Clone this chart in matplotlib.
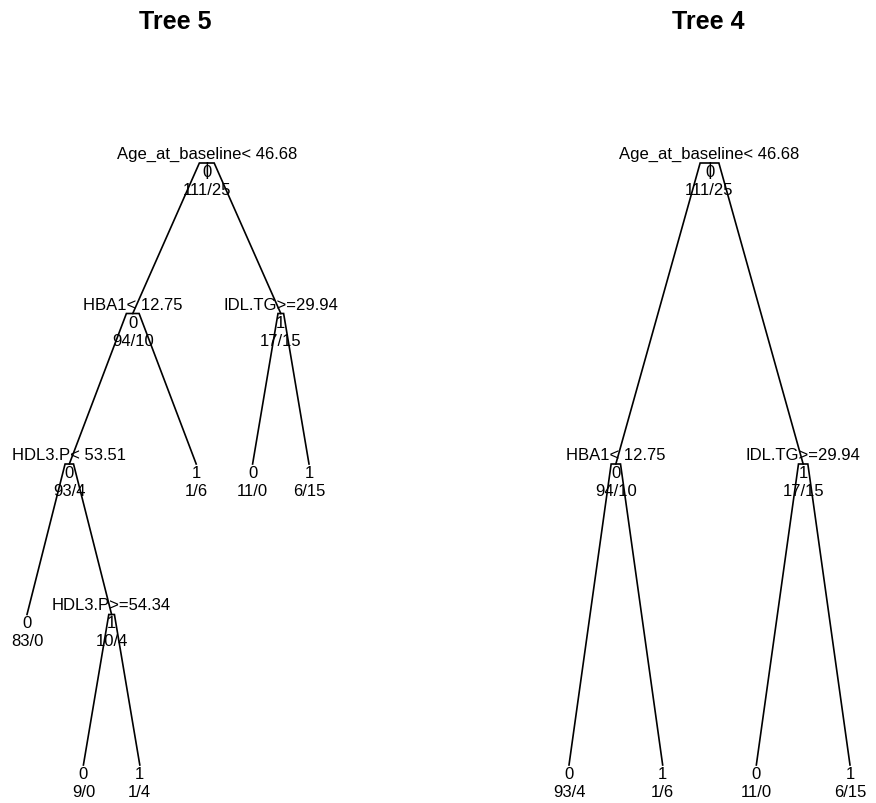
import matplotlib
matplotlib.use('Agg')
import matplotlib.pyplot as plt

plt.rcParams['font.family'] = ['Liberation Sans', 'DejaVu Sans']

# Tree 5: rpart node ids, split labels, predicted class, class counts
tree5_nodes = [1, 2, 3, 4, 5, 6, 7, 8, 9, 18, 19]
tree5_splits = ['Age_at_baseline< 46.68', 'HBA1< 12.75', 'IDL.TG>=29.94',
                'HDL3.P< 53.51', '', '', '', '', 'HDL3.P>=54.34', '', '']
tree5_class = [0, 0, 1, 0, 1, 0, 1, 0, 1, 0, 1]
tree5_n0 = [111, 94, 17, 93, 1, 11, 6, 83, 10, 9, 1]
tree5_n1 = [25, 10, 15, 4, 6, 0, 15, 0, 4, 0, 4]

# Tree 4
tree4_nodes = [1, 2, 3, 4, 5, 6, 7]
tree4_splits = ['Age_at_baseline< 46.68', 'HBA1< 12.75', 'IDL.TG>=29.94',
                '', '', '', '']
tree4_class = [0, 0, 1, 0, 1, 0, 1]
tree4_n0 = [111, 94, 17, 93, 1, 11, 6]
tree4_n1 = [25, 10, 15, 4, 6, 0, 15]

BRANCH = 0.1
PX = 72 / 100  # pixels -> points at dpi 100


def layout(nodes):
    ids = set(nodes)
    x, depth = {}, {}
    leaf_count = [0]

    def walk(n, d):
        depth[n] = d
        if 2 * n in ids:
            walk(2 * n, d + 1)
            walk(2 * n + 1, d + 1)
            x[n] = (x[2 * n] + x[2 * n + 1]) / 2
        else:
            leaf_count[0] += 1
            x[n] = leaf_count[0]
    walk(1, 0)
    return x, depth, leaf_count[0]


def draw_tree(ax, nodes, splits, cls, n0, n1):
    x, depth, nleaf = layout(nodes)
    maxd = max(depth.values())
    y = {n: -depth[n] for n in nodes}
    ids = set(nodes)
    # branches (rpart style with short shoulders)
    for n in nodes:
        if 2 * n in ids:
            L, S = 2 * n, 2 * n + 1
            t = (x[S] - x[L]) * (1 - BRANCH) / 2
            ax.plot([x[L], x[L] + t, x[S] - t, x[S]],
                    [y[L], y[n], y[n], y[S]], color='black', lw=1.2,
                    solid_joinstyle='miter', clip_on=False)
    # root stem
    ax.annotate('|', (x[1], y[1]), xytext=(0, -11 * PX), textcoords='offset points',
                ha='center', va='baseline', fontsize=13, annotation_clip=False)
    for i, n in enumerate(nodes):
        if splits[i]:
            ax.annotate(splits[i], (x[n], y[n]), xytext=(0, 5 * PX),
                        textcoords='offset points', ha='center', va='baseline',
                        fontsize=12, annotation_clip=False)
        ax.annotate(str(cls[i]), (x[n], y[n]), xytext=(0, -13 * PX),
                    textcoords='offset points', ha='center', va='baseline',
                    fontsize=12, annotation_clip=False)
        ax.annotate(f'{n0[i]}/{n1[i]}', (x[n], y[n]), xytext=(0, -31 * PX),
                    textcoords='offset points', ha='center', va='baseline',
                    fontsize=12, annotation_clip=False)
    ax.set_xlim(1, nleaf)
    ax.set_ylim(-maxd, 0)
    ax.axis('off')


W, H = 876, 804
fig = plt.figure(figsize=(W / 100, H / 100), dpi=100)

top, bottom = 164, 766
ax1 = fig.add_axes([27 / W, (H - bottom) / H, (309 - 27) / W, (bottom - top) / H])
draw_tree(ax1, tree5_nodes, tree5_splits, tree5_class, tree5_n0, tree5_n1)

ax2 = fig.add_axes([569 / W, (H - bottom) / H, (850 - 569) / W, (bottom - top) / H])
draw_tree(ax2, tree4_nodes, tree4_splits, tree4_class, tree4_n0, tree4_n1)

fig.text(175 / W, 1 - 22 / H, 'Tree 5', ha='center', va='center',
         fontsize=18, fontweight='bold')
fig.text(708 / W, 1 - 22 / H, 'Tree 4', ha='center', va='center',
         fontsize=18, fontweight='bold')

fig.savefig('out.png', dpi=100)
